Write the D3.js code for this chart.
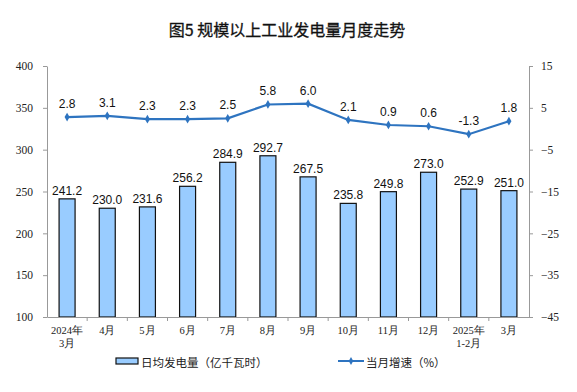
<!DOCTYPE html>
<html>
<head>
<meta charset="utf-8">
<script src="https://cdn.jsdelivr.net/npm/d3@7"></script>
<style>
  body { margin: 0; background: #fff; }
  svg { display: block; }
</style>
</head>
<body>
<svg width="577" height="392"></svg>
<script>
const months = ["2024年\n3月", "4月", "5月", "6月", "7月", "8月", "9月", "10月", "11月", "12月", "2025年\n1-2月", "3月"];
const dailyOutput = [241.2, 230.0, 231.6, 256.2, 284.9, 292.7, 267.5, 235.8, 249.8, 273.0, 252.9, 251.0];
const growth = [2.8, 3.1, 2.3, 2.3, 2.5, 5.8, 6.0, 2.1, 0.9, 0.6, -1.3, 1.8];
const leftTicks = [100, 150, 200, 250, 300, 350, 400];
const rightTicks = [-45, -35, -25, -15, -5, 5, 15];

const svg = d3.select("svg");
const margin = {top: 66, left: 47, right: 48, bottom: 75};
const plotW = 577 - margin.left - margin.right;
const plotH = 392 - margin.top - margin.bottom;
const serif = "'Liberation Serif', 'DejaVu Serif', serif";
const sans = "'Liberation Sans', Arial, sans-serif";
const cjk = "'Noto Sans CJK SC', sans-serif";

// title
svg.append("text")
  .attr("x", 287).attr("y", 36)
  .attr("text-anchor", "middle")
  .attr("font-family", cjk)
  .attr("font-size", "16px")
  .attr("font-weight", "normal")
  .attr("fill", "#111")
  .attr("stroke", "#111")
  .attr("stroke-width", 0.3)
  .text("图5  规模以上工业发电量月度走势");

const g = svg.append("g").attr("transform", `translate(${margin.left},${margin.top})`);

const xc = d3.scaleBand().domain(months).range([0, plotW]);
const yL = d3.scaleLinear().domain([100, 400]).range([plotH, 0]);
const yR = d3.scaleLinear().domain([-45, 15]).range([plotH, 0]);
const cx = i => xc(months[i]) + xc.bandwidth() / 2;

// bars
g.selectAll("rect.bar").data(dailyOutput).enter().append("rect")
  .attr("class", "bar")
  .attr("x", (d, i) => cx(i) - 8)
  .attr("width", 16)
  .attr("y", d => yL(d))
  .attr("height", d => plotH - yL(d))
  .attr("fill", "#99ccff")
  .attr("stroke", "#111")
  .attr("stroke-width", 1.2);

g.selectAll("text.barlab").data(dailyOutput).enter().append("text")
  .attr("x", (d, i) => cx(i))
  .attr("y", d => yL(d) - 4)
  .attr("text-anchor", "middle")
  .attr("font-family", sans)
  .attr("font-size", "12px")
  .attr("fill", "#111")
  .text(d => d.toFixed(1));

// line
const line = d3.line()
  .x((d, i) => cx(i))
  .y(d => yR(d));
g.append("path").datum(growth)
  .attr("d", line)
  .attr("fill", "none")
  .attr("stroke", "#2e74c0")
  .attr("stroke-width", 2.2);

g.selectAll("path.mk").data(growth).enter().append("path")
  .attr("class", "mk")
  .attr("d", d3.symbol(d3.symbolDiamond, 22))
  .attr("transform", (d, i) => `translate(${cx(i)},${yR(d)})`)
  .attr("fill", "#2e74c0");

g.selectAll("text.linelab").data(growth).enter().append("text")
  .attr("x", (d, i) => cx(i))
  .attr("y", d => yR(d) - 9)
  .attr("text-anchor", "middle")
  .attr("font-family", sans)
  .attr("font-size", "12px")
  .attr("fill", "#111")
  .text(d => d.toFixed(1));

// axes
const axL = g.append("g").call(d3.axisLeft(yL).tickValues(leftTicks).tickSize(4).tickSizeOuter(0));
const axR = g.append("g").attr("transform", `translate(${plotW},0)`)
  .call(d3.axisRight(yR).tickValues(rightTicks).tickSize(4).tickSizeOuter(0));
[axL, axR].forEach(ax => {
  ax.attr("font-family", serif);
  ax.select(".domain").attr("stroke", "#999");
  ax.selectAll(".tick line").attr("stroke", "#999");
  ax.selectAll(".tick text").attr("font-family", serif).attr("font-size", "11.5px").attr("fill", "#222");
});
axL.selectAll(".tick text").attr("x", -14);
axR.selectAll(".tick text").attr("x", 12);

const axB = g.append("g").attr("transform", `translate(0,${plotH})`)
  .call(d3.axisBottom(xc).tickSize(0).tickSizeOuter(0).tickFormat(""));
axB.select(".domain").attr("stroke", "#999");
// category separators
g.selectAll("line.sep").data(months.slice(1)).enter().append("line")
  .attr("x1", d => xc(d)).attr("x2", d => xc(d))
  .attr("y1", plotH).attr("y2", plotH + 4)
  .attr("stroke", "#999");

g.selectAll("text.cat").data(months).enter().append("text")
  .attr("x", d => xc(d) + xc.bandwidth() / 2)
  .attr("y", plotH + 17)
  .attr("text-anchor", "middle")
  .attr("font-family", serif)
  .attr("font-size", "10.5px")
  .attr("fill", "#222")
  .each(function(d) {
    const parts = d.split("\n");
    parts.forEach((p, i) => {
      d3.select(this).append("tspan")
        .attr("x", xc(d) + xc.bandwidth() / 2)
        .attr("dy", i === 0 ? 0 : 13)
        .text(p);
    });
  });

// legend
const lg = svg.append("g").attr("transform", "translate(0,362)");
lg.append("rect").attr("x", 116).attr("y", -4).attr("width", 22).attr("height", 6)
  .attr("fill", "#99ccff").attr("stroke", "#111").attr("stroke-width", 1.2);
lg.append("text").attr("x", 141).attr("y", 5)
  .attr("font-family", cjk).attr("font-size", "11.5px").attr("fill", "#222")
  .text("日均发电量（亿千瓦时）");
lg.append("line").attr("x1", 338).attr("x2", 364).attr("y1", -1).attr("y2", -1)
  .attr("stroke", "#2e74c0").attr("stroke-width", 2);
lg.append("path").attr("d", d3.symbol(d3.symbolDiamond, 18))
  .attr("transform", "translate(351,-1)").attr("fill", "#2e74c0");
lg.append("text").attr("x", 366).attr("y", 5)
  .attr("font-family", cjk).attr("font-size", "11.5px").attr("fill", "#222")
  .text("当月增速（%）");
</script>
</body>
</html>
